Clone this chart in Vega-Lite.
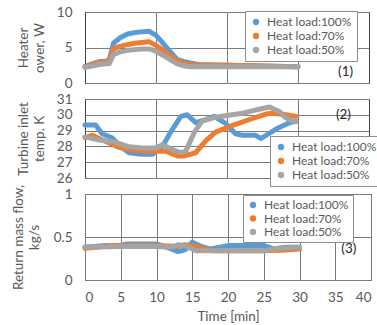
{
  "$schema": "https://vega.github.io/schema/vega-lite/v6.json",
  "padding": {"left": 11, "top": 4, "right": 0, "bottom": 0},
  "bounds": "flush",
  "spacing": 16,
  "config": {
    "font": "Lato",
    "view": {"stroke": "#404040", "strokeWidth": 1},
    "axis": {
      "labelFont": "Lato", "labelFontSize": 13.5, "labelColor": "#595959", "labelOverlap": false,
      "titleFont": "Lato", "titleFontSize": 13.5, "titleColor": "#595959", "titleFontWeight": "normal",
      "ticks": false, "domain": false, "grid": true, "gridColor": "#7a7a7a", "gridWidth": 1, "labelPadding": 13, "format": "~f"
    },
    "legend": {
      "orient": "none", "title": null, "strokeColor": "#8c8c8c", "fillColor": "white",
      "padding": 5, "symbolType": "circle", "symbolSize": 40, "labelFont": "Lato",
      "labelFontSize": 12, "labelColor": "#595959", "rowPadding": 2, "labelOffset": 5
    },
    "text": {"font": "Lato", "fontSize": 13.5, "color": "#262626"}
  },
  "datasets": {
    "p1": [
      {"time": 0, "value": 2.3, "series": "Heat load:100%"},
      {"time": 1, "value": 2.7, "series": "Heat load:100%"},
      {"time": 2, "value": 3.0, "series": "Heat load:100%"},
      {"time": 3, "value": 3.1, "series": "Heat load:100%"},
      {"time": 3.4, "value": 3.2, "series": "Heat load:100%"},
      {"time": 4, "value": 5.6, "series": "Heat load:100%"},
      {"time": 5, "value": 6.4, "series": "Heat load:100%"},
      {"time": 6, "value": 6.9, "series": "Heat load:100%"},
      {"time": 7, "value": 7.1, "series": "Heat load:100%"},
      {"time": 8, "value": 7.2, "series": "Heat load:100%"},
      {"time": 9, "value": 7.3, "series": "Heat load:100%"},
      {"time": 10, "value": 6.7, "series": "Heat load:100%"},
      {"time": 11, "value": 5.6, "series": "Heat load:100%"},
      {"time": 12, "value": 4.4, "series": "Heat load:100%"},
      {"time": 13, "value": 3.3, "series": "Heat load:100%"},
      {"time": 14, "value": 3.0, "series": "Heat load:100%"},
      {"time": 15, "value": 2.8, "series": "Heat load:100%"},
      {"time": 16, "value": 2.6, "series": "Heat load:100%"},
      {"time": 20, "value": 2.5, "series": "Heat load:100%"},
      {"time": 25, "value": 2.4, "series": "Heat load:100%"},
      {"time": 30, "value": 2.3, "series": "Heat load:100%"},
      {"time": 0, "value": 2.3, "series": "Heat load:70%"},
      {"time": 1, "value": 2.6, "series": "Heat load:70%"},
      {"time": 2, "value": 2.9, "series": "Heat load:70%"},
      {"time": 3, "value": 3.0, "series": "Heat load:70%"},
      {"time": 3.4, "value": 3.0, "series": "Heat load:70%"},
      {"time": 4, "value": 4.8, "series": "Heat load:70%"},
      {"time": 5, "value": 5.2, "series": "Heat load:70%"},
      {"time": 6, "value": 5.4, "series": "Heat load:70%"},
      {"time": 7, "value": 5.6, "series": "Heat load:70%"},
      {"time": 8, "value": 5.7, "series": "Heat load:70%"},
      {"time": 9, "value": 5.8, "series": "Heat load:70%"},
      {"time": 10, "value": 5.3, "series": "Heat load:70%"},
      {"time": 11, "value": 4.6, "series": "Heat load:70%"},
      {"time": 12, "value": 3.8, "series": "Heat load:70%"},
      {"time": 13, "value": 3.1, "series": "Heat load:70%"},
      {"time": 14, "value": 2.8, "series": "Heat load:70%"},
      {"time": 15, "value": 2.6, "series": "Heat load:70%"},
      {"time": 16, "value": 2.5, "series": "Heat load:70%"},
      {"time": 20, "value": 2.5, "series": "Heat load:70%"},
      {"time": 25, "value": 2.4, "series": "Heat load:70%"},
      {"time": 30, "value": 2.3, "series": "Heat load:70%"},
      {"time": 0, "value": 2.2, "series": "Heat load:50%"},
      {"time": 1, "value": 2.4, "series": "Heat load:50%"},
      {"time": 2, "value": 2.6, "series": "Heat load:50%"},
      {"time": 3, "value": 2.7, "series": "Heat load:50%"},
      {"time": 3.4, "value": 2.7, "series": "Heat load:50%"},
      {"time": 4, "value": 4.0, "series": "Heat load:50%"},
      {"time": 5, "value": 4.4, "series": "Heat load:50%"},
      {"time": 6, "value": 4.6, "series": "Heat load:50%"},
      {"time": 7, "value": 4.7, "series": "Heat load:50%"},
      {"time": 8, "value": 4.8, "series": "Heat load:50%"},
      {"time": 9, "value": 4.8, "series": "Heat load:50%"},
      {"time": 10, "value": 4.5, "series": "Heat load:50%"},
      {"time": 11, "value": 3.9, "series": "Heat load:50%"},
      {"time": 12, "value": 3.3, "series": "Heat load:50%"},
      {"time": 13, "value": 2.7, "series": "Heat load:50%"},
      {"time": 14, "value": 2.4, "series": "Heat load:50%"},
      {"time": 15, "value": 2.3, "series": "Heat load:50%"},
      {"time": 16, "value": 2.3, "series": "Heat load:50%"},
      {"time": 20, "value": 2.3, "series": "Heat load:50%"},
      {"time": 25, "value": 2.3, "series": "Heat load:50%"},
      {"time": 30, "value": 2.3, "series": "Heat load:50%"}
    ],
    "p2": [
      {"time": 0, "value": 29.35, "series": "Heat load:100%"},
      {"time": 1.5, "value": 29.35, "series": "Heat load:100%"},
      {"time": 2.4, "value": 28.8, "series": "Heat load:100%"},
      {"time": 3.8, "value": 28.55, "series": "Heat load:100%"},
      {"time": 5, "value": 28.0, "series": "Heat load:100%"},
      {"time": 6.2, "value": 27.6, "series": "Heat load:100%"},
      {"time": 8, "value": 27.5, "series": "Heat load:100%"},
      {"time": 9.5, "value": 27.5, "series": "Heat load:100%"},
      {"time": 10.9, "value": 28.0, "series": "Heat load:100%"},
      {"time": 12.2, "value": 29.0, "series": "Heat load:100%"},
      {"time": 13.5, "value": 29.9, "series": "Heat load:100%"},
      {"time": 14.4, "value": 30.0, "series": "Heat load:100%"},
      {"time": 15.6, "value": 29.5, "series": "Heat load:100%"},
      {"time": 17, "value": 29.7, "series": "Heat load:100%"},
      {"time": 18.2, "value": 29.9, "series": "Heat load:100%"},
      {"time": 19.8, "value": 29.45, "series": "Heat load:100%"},
      {"time": 21.2, "value": 28.8, "series": "Heat load:100%"},
      {"time": 22.2, "value": 28.7, "series": "Heat load:100%"},
      {"time": 24, "value": 28.7, "series": "Heat load:100%"},
      {"time": 24.8, "value": 28.5, "series": "Heat load:100%"},
      {"time": 26.9, "value": 29.1, "series": "Heat load:100%"},
      {"time": 28.8, "value": 29.5, "series": "Heat load:100%"},
      {"time": 29.7, "value": 29.6, "series": "Heat load:100%"},
      {"time": 0, "value": 28.55, "series": "Heat load:70%"},
      {"time": 1, "value": 28.7, "series": "Heat load:70%"},
      {"time": 3, "value": 28.3, "series": "Heat load:70%"},
      {"time": 4.75, "value": 27.95, "series": "Heat load:70%"},
      {"time": 7, "value": 27.75, "series": "Heat load:70%"},
      {"time": 9, "value": 27.7, "series": "Heat load:70%"},
      {"time": 10, "value": 27.7, "series": "Heat load:70%"},
      {"time": 11.4, "value": 27.7, "series": "Heat load:70%"},
      {"time": 13, "value": 27.4, "series": "Heat load:70%"},
      {"time": 14, "value": 27.4, "series": "Heat load:70%"},
      {"time": 15.6, "value": 27.6, "series": "Heat load:70%"},
      {"time": 17, "value": 28.35, "series": "Heat load:70%"},
      {"time": 18.4, "value": 28.9, "series": "Heat load:70%"},
      {"time": 21.2, "value": 29.4, "series": "Heat load:70%"},
      {"time": 23.5, "value": 29.75, "series": "Heat load:70%"},
      {"time": 25.5, "value": 30.05, "series": "Heat load:70%"},
      {"time": 26.4, "value": 30.1, "series": "Heat load:70%"},
      {"time": 28.3, "value": 30.0, "series": "Heat load:70%"},
      {"time": 29.7, "value": 29.9, "series": "Heat load:70%"},
      {"time": 0, "value": 28.6, "series": "Heat load:50%"},
      {"time": 2, "value": 28.4, "series": "Heat load:50%"},
      {"time": 4, "value": 28.3, "series": "Heat load:50%"},
      {"time": 6, "value": 28.0, "series": "Heat load:50%"},
      {"time": 8, "value": 27.9, "series": "Heat load:50%"},
      {"time": 10, "value": 27.9, "series": "Heat load:50%"},
      {"time": 10.9, "value": 28.1, "series": "Heat load:50%"},
      {"time": 12.3, "value": 27.8, "series": "Heat load:50%"},
      {"time": 13.5, "value": 27.6, "series": "Heat load:50%"},
      {"time": 14.2, "value": 27.7, "series": "Heat load:50%"},
      {"time": 15.4, "value": 28.9, "series": "Heat load:50%"},
      {"time": 16.5, "value": 29.6, "series": "Heat load:50%"},
      {"time": 18.4, "value": 29.85, "series": "Heat load:50%"},
      {"time": 20, "value": 29.95, "series": "Heat load:50%"},
      {"time": 22.2, "value": 30.1, "series": "Heat load:50%"},
      {"time": 24, "value": 30.3, "series": "Heat load:50%"},
      {"time": 25.5, "value": 30.45, "series": "Heat load:50%"},
      {"time": 26, "value": 30.5, "series": "Heat load:50%"},
      {"time": 27.4, "value": 30.2, "series": "Heat load:50%"},
      {"time": 28.3, "value": 29.8, "series": "Heat load:50%"},
      {"time": 29.7, "value": 29.55, "series": "Heat load:50%"}
    ],
    "p3": [
      {"time": 0, "value": 0.38, "series": "Heat load:100%"},
      {"time": 3, "value": 0.40, "series": "Heat load:100%"},
      {"time": 4, "value": 0.39, "series": "Heat load:100%"},
      {"time": 6, "value": 0.42, "series": "Heat load:100%"},
      {"time": 10, "value": 0.42, "series": "Heat load:100%"},
      {"time": 11.5, "value": 0.38, "series": "Heat load:100%"},
      {"time": 13, "value": 0.33, "series": "Heat load:100%"},
      {"time": 14, "value": 0.35, "series": "Heat load:100%"},
      {"time": 15, "value": 0.44, "series": "Heat load:100%"},
      {"time": 16, "value": 0.40, "series": "Heat load:100%"},
      {"time": 17.5, "value": 0.36, "series": "Heat load:100%"},
      {"time": 20, "value": 0.40, "series": "Heat load:100%"},
      {"time": 25, "value": 0.40, "series": "Heat load:100%"},
      {"time": 26.5, "value": 0.36, "series": "Heat load:100%"},
      {"time": 28, "value": 0.38, "series": "Heat load:100%"},
      {"time": 30, "value": 0.38, "series": "Heat load:100%"},
      {"time": 0, "value": 0.37, "series": "Heat load:70%"},
      {"time": 4, "value": 0.40, "series": "Heat load:70%"},
      {"time": 10, "value": 0.40, "series": "Heat load:70%"},
      {"time": 13, "value": 0.39, "series": "Heat load:70%"},
      {"time": 14, "value": 0.41, "series": "Heat load:70%"},
      {"time": 16, "value": 0.38, "series": "Heat load:70%"},
      {"time": 18, "value": 0.34, "series": "Heat load:70%"},
      {"time": 25, "value": 0.34, "series": "Heat load:70%"},
      {"time": 28, "value": 0.35, "series": "Heat load:70%"},
      {"time": 30, "value": 0.36, "series": "Heat load:70%"},
      {"time": 0, "value": 0.38, "series": "Heat load:50%"},
      {"time": 5, "value": 0.39, "series": "Heat load:50%"},
      {"time": 10, "value": 0.39, "series": "Heat load:50%"},
      {"time": 12, "value": 0.38, "series": "Heat load:50%"},
      {"time": 13, "value": 0.41, "series": "Heat load:50%"},
      {"time": 14, "value": 0.40, "series": "Heat load:50%"},
      {"time": 15.5, "value": 0.34, "series": "Heat load:50%"},
      {"time": 20, "value": 0.34, "series": "Heat load:50%"},
      {"time": 25, "value": 0.34, "series": "Heat load:50%"},
      {"time": 27, "value": 0.37, "series": "Heat load:50%"},
      {"time": 30, "value": 0.38, "series": "Heat load:50%"}
    ],
    "labels": [
      {"panel": 1, "time": 36.7, "value": 1.55, "label": "(1)"},
      {"panel": 2, "time": 36.4, "value": 30.0, "label": "(2)"},
      {"panel": 3, "time": 36.9, "value": 0.36, "label": "(3)"}
    ]
  },
  "vconcat": [
    {
      "width": 284, "height": 71,
      "layer": [
        {
          "data": {"name": "p1"},
          "mark": {"type": "line", "strokeWidth": 5, "strokeJoin": "round", "strokeCap": "round"},
          "encoding": {
            "x": {"field": "time", "type": "quantitative", "scale": {"domain": [0, 40]}, "axis": {"values": [10, 20, 30], "labels": false, "title": null}},
            "y": {"field": "value", "type": "quantitative", "scale": {"domain": [0, 10]}, "axis": {"values": [0, 5, 10], "title": ["Heater", "ower, W"], "titlePadding": 10}},
            "color": {"field": "series", "type": "nominal", "sort": ["Heat load:100%", "Heat load:70%", "Heat load:50%"],
              "scale": {"domain": ["Heat load:100%", "Heat load:70%", "Heat load:50%"], "range": ["#5B9BD5", "#ED7D31", "#A5A5A5"]},
              "legend": {"legendX": 160, "legendY": -1, "rowPadding": 2, "encode": {"symbols": {"update": {"fill": {"scale": "color", "field": "value"}, "strokeWidth": {"value": 0}}}}}}
          }
        },
        {
          "data": {"name": "labels"},
          "transform": [{"filter": "datum.panel == 1"}],
          "mark": {"type": "text"},
          "encoding": {
            "x": {"field": "time", "type": "quantitative", "axis": {"values": [10, 20, 30], "labels": false, "title": null}},
            "y": {"field": "value", "type": "quantitative", "axis": {"values": [0, 5, 10], "title": ["Heater", "ower, W"], "titlePadding": 10}},
            "text": {"field": "label"}
          }
        }
      ]
    },
    {
      "width": 284, "height": 79,
      "layer": [
        {
          "data": {"name": "p2"},
          "mark": {"type": "line", "strokeWidth": 5, "strokeJoin": "round", "strokeCap": "round"},
          "encoding": {
            "x": {"field": "time", "type": "quantitative", "scale": {"domain": [0, 40]}, "axis": {"values": [10, 20, 30], "labels": false, "title": null}},
            "y": {"field": "value", "type": "quantitative", "scale": {"domain": [26, 31]}, "axis": {"values": [26, 27, 28, 29, 30, 31], "title": ["Turbine inlet", "temp. K"], "titlePadding": 10}},
            "color": {"field": "series", "type": "nominal", "sort": ["Heat load:100%", "Heat load:70%", "Heat load:50%"],
              "scale": {"domain": ["Heat load:100%", "Heat load:70%", "Heat load:50%"], "range": ["#5B9BD5", "#ED7D31", "#A5A5A5"]},
              "legend": {"legendX": 185, "legendY": 37, "rowPadding": 2, "encode": {"symbols": {"update": {"fill": {"scale": "color", "field": "value"}, "strokeWidth": {"value": 0}}}}}}
          }
        },
        {
          "data": {"name": "labels"},
          "transform": [{"filter": "datum.panel == 2"}],
          "mark": {"type": "text"},
          "encoding": {
            "x": {"field": "time", "type": "quantitative", "axis": {"values": [10, 20, 30], "labels": false, "title": null}},
            "y": {"field": "value", "type": "quantitative", "axis": {"values": [26, 27, 28, 29, 30, 31], "title": ["Turbine inlet", "temp. K"], "titlePadding": 10}},
            "text": {"field": "label"}
          }
        }
      ]
    },
    {
      "width": 286, "height": 86,
      "layer": [
        {
          "data": {"name": "p3"},
          "mark": {"type": "line", "strokeWidth": 5, "strokeJoin": "round", "strokeCap": "round"},
          "encoding": {
            "x": {"field": "time", "type": "quantitative", "scale": {"domain": [0, 40]}, "axis": {"values": [0, 5, 10, 15, 20, 25, 30, 35, 40], "title": "Time [min]", "labelPadding": 10, "titlePadding": 6}},
            "y": {"field": "value", "type": "quantitative", "scale": {"domain": [0, 1]}, "axis": {"values": [0, 0.5, 1], "title": ["Return mass flow,", "kg/s"], "titlePadding": 12}},
            "color": {"field": "series", "type": "nominal", "sort": ["Heat load:100%", "Heat load:70%", "Heat load:50%"],
              "scale": {"domain": ["Heat load:100%", "Heat load:70%", "Heat load:50%"], "range": ["#5B9BD5", "#ED7D31", "#A5A5A5"]},
              "legend": {"legendX": 158, "legendY": 1, "rowPadding": 1.5, "padding": 4, "encode": {"symbols": {"update": {"fill": {"scale": "color", "field": "value"}, "strokeWidth": {"value": 0}}}}}}
          }
        },
        {
          "data": {"name": "labels"},
          "transform": [{"filter": "datum.panel == 3"}],
          "mark": {"type": "text"},
          "encoding": {
            "x": {"field": "time", "type": "quantitative", "axis": {"values": [0, 5, 10, 15, 20, 25, 30, 35, 40], "title": "Time [min]", "labelPadding": 10, "titlePadding": 6}},
            "y": {"field": "value", "type": "quantitative", "axis": {"values": [0, 0.5, 1], "title": ["Return mass flow,", "kg/s"], "titlePadding": 12}},
            "text": {"field": "label"}
          }
        }
      ]
    }
  ],
  "resolve": {"legend": {"color": "independent"}}
}
